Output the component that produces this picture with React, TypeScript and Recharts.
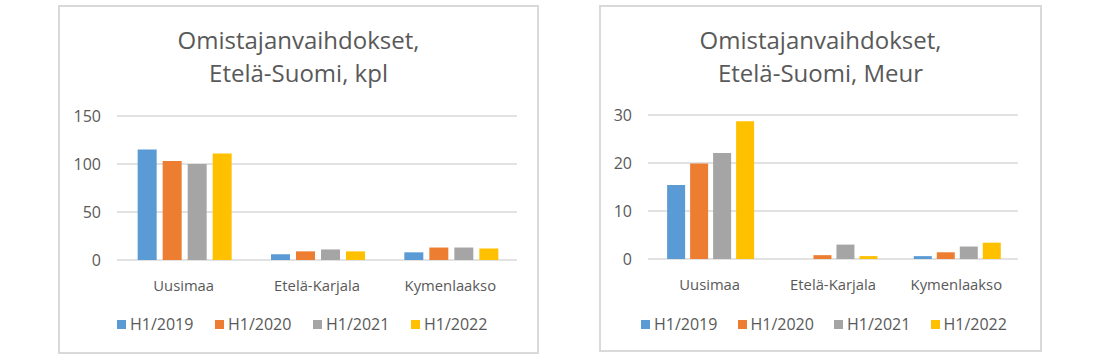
import React from 'react';
import { BarChart, Bar, XAxis, YAxis, CartesianGrid, Legend } from 'recharts';

const regions = ['Uusimaa', 'Etelä-Karjala', 'Kymenlaakso'];
const seriesNames = ['H1/2019', 'H1/2020', 'H1/2021', 'H1/2022'];
const seriesColors = ['#5b9bd5', '#ed7d31', '#a5a5a5', '#ffc000'];

// kpl (count of ownership changes)
const kpl2019 = [115, 6, 8];
const kpl2020 = [103, 9, 13];
const kpl2021 = [100, 11, 13];
const kpl2022 = [111, 9, 12];
const kplTicks = [0, 50, 100, 150];

// Meur
const meur2019 = [15.4, 0, 0.6];
const meur2020 = [19.9, 0.8, 1.4];
const meur2021 = [22.1, 3.0, 2.6];
const meur2022 = [28.7, 0.6, 3.4];
const meurTicks = [0, 10, 20, 30];

const FONT = '"Open Sans", sans-serif';
const TEXT = '#595959';

const buildRows = (series: number[][]) =>
  regions.map((name, i) => {
    const row: Record<string, string | number> = { name };
    seriesNames.forEach((s, j) => {
      row[s] = series[j][i];
    });
    return row;
  });

const kplData = buildRows([kpl2019, kpl2020, kpl2021, kpl2022]);
const meurData = buildRows([meur2019, meur2020, meur2021, meur2022]);

interface PanelProps {
  left: number;
  width: number;
  height: number;
  title: string[];
  data: Record<string, string | number>[];
  ticks: number[];
  margin: { top: number; right: number; bottom: number; left: number };
  yWidth: number;
  barGap: number;
  legendLeft: number;
  legendStep: number;
}

const renderLegend = (left: number, step: number) => () => (
  <div style={{ position: 'relative', height: 20 }}>
    {seriesNames.map((s, i) => (
      <div
        key={s}
        style={{
          position: 'absolute',
          left: left + i * step,
          top: 0,
          display: 'flex',
          alignItems: 'center',
          whiteSpace: 'nowrap',
        }}
      >
        <span style={{ width: 9, height: 9, background: seriesColors[i], display: 'inline-block', marginRight: 4 }} />
        <span style={{ fontFamily: FONT, fontSize: 16, color: TEXT, lineHeight: '20px' }}>{s}</span>
      </div>
    ))}
  </div>
);

function Panel({ left, width, height, title, data, ticks, margin, yWidth, barGap, legendLeft, legendStep }: PanelProps) {
  const innerW = width - 4;
  const innerH = height - 4;
  return (
    <div
      style={{
        position: 'absolute',
        left,
        top: 5,
        width: innerW,
        height: innerH,
        border: '2px solid #d9d9d9',
        background: '#fff',
      }}
    >
      <div
        style={{
          position: 'absolute',
          left: 0,
          top: 16,
          width: innerW,
          textAlign: 'center',
          fontFamily: FONT,
          fontSize: 24,
          lineHeight: '33px',
          color: TEXT,
        }}
      >
        {title.map((t) => (
          <div key={t}>{t}</div>
        ))}
      </div>
      <BarChart
        width={innerW}
        height={innerH}
        data={data}
        margin={margin}
        barGap={barGap}
        barCategoryGap="15.5%"
      >
        <CartesianGrid vertical={false} stroke="#d9d9d9" strokeWidth={1.3} />
        <XAxis
          dataKey="name"
          axisLine={false}
          tickLine={false}
          tickSize={0}
          tickMargin={20}
          height={40}
          tick={{ fontFamily: FONT, fontSize: 14.8, fill: TEXT }}
        />
        <YAxis
          width={yWidth}
          domain={[ticks[0], ticks[ticks.length - 1]]}
          ticks={ticks}
          axisLine={false}
          tickLine={false}
          tickSize={0}
          tickMargin={16}
          tick={{ fontFamily: FONT, fontSize: 16, fill: TEXT }}
        />
        <Legend
          verticalAlign="middle"
          content={renderLegend(legendLeft, legendStep)}
          wrapperStyle={{ left: 0, top: 307, width: innerW }}
        />
        {seriesNames.map((s, i) => (
          <Bar key={s} dataKey={s} fill={seriesColors[i]} isAnimationActive={false} />
        ))}
      </BarChart>
    </div>
  );
}

export default function App() {
  return (
    <div style={{ position: 'absolute', left: 0, top: 0, width: 1100, height: 360, background: '#fff' }}>
      <Panel
        left={58}
        width={481}
        height={349}
        title={['Omistajanvaihdokset,', 'Etelä-Suomi, kpl']}
        data={kplData}
        ticks={kplTicks}
        margin={{ top: 109, right: 20, bottom: 52, left: 0 }}
        yWidth={57}
        barGap={6}
        legendLeft={57}
        legendStep={98}
      />
      <Panel
        left={599}
        width={443}
        height={347}
        title={['Omistajanvaihdokset,', 'Etelä-Suomi, Meur']}
        data={meurData}
        ticks={meurTicks}
        margin={{ top: 108, right: 22, bottom: 51, left: 0 }}
        yWidth={47}
        barGap={5}
        legendLeft={40}
        legendStep={96.5}
      />
    </div>
  );
}
